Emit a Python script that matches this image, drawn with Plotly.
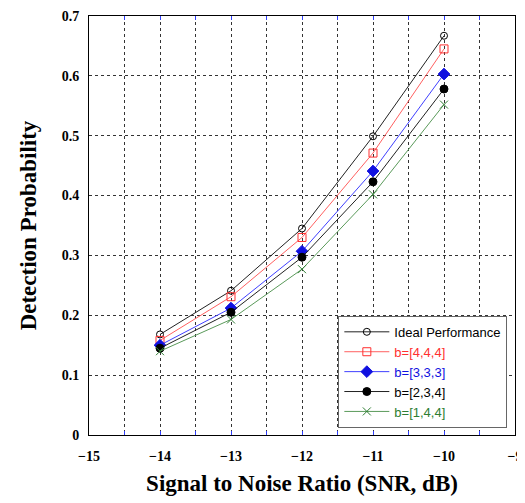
import plotly.graph_objects as go

# SNR (dB) and detection probability per quantisation scheme
snr=[-14,-13,-12,-11,-10]
ideal=[0.168,0.241,0.345,0.499,0.667]
b444=[0.158,0.231,0.330,0.471,0.645]
b333=[0.150,0.212,0.307,0.441,0.603]
b234=[0.145,0.205,0.297,0.423,0.578]
b144=[0.140,0.193,0.277,0.402,0.552]

series=[('Ideal Performance',ideal,'black','#222222','circle-open',7),
        ('b=[4,4,4]',b444,'#ff3030','#ff6060','square-open',8),
        ('b=[3,3,3]',b333,'#1010e0','#4040ff','diamond',9),
        ('b=[2,3,4]',b234,'black','#222222','circle',8),
        ('b=[1,4,4]',b144,'#2e7d32','#5a9a5a','x-thin-open',8)]

fig=go.Figure()
for name,vals,tcol,lcol,sym,size in series:
    fig.add_trace(go.Scatter(x=snr,y=vals,mode='lines+markers',
                             name='<span style="color:'+tcol+'">'+name+'</span>',
                             line={'color':lcol,'width':1},
                             marker={'symbol':sym,'size':size,'color':tcol,
                                     'line':{'color':tcol,'width':1}}))

# page body has an 8px margin, so the figure is a little smaller than the window
axfont={'family':'Liberation Serif','size':14,'color':'black'}
grid={'showgrid':True,'gridcolor':'#333333','griddash':'3px,3px','gridwidth':1}
fig.update_layout(width=517,height=495,
                  margin={'l':81,'r':10,'t':8,'b':68,'autoexpand':False},
                  plot_bgcolor='white',paper_bgcolor='white',
                  font={'family':'Liberation Sans','color':'black'},
                  legend={'x':0.982,'y':0.017,'xanchor':'right','yanchor':'bottom',
                          'bordercolor':'#666666','borderwidth':1,'bgcolor':'white',
                          'font':{'family':'Liberation Sans','size':13},
                          'itemwidth':45,'tracegroupgap':0},
                  xaxis={'range':[-15,-9],'dtick':1,'tickformat':'d',**grid,
                         'minor':{'dtick':0.5,'showgrid':True,'gridcolor':'#333333','griddash':'3px,3px',
                                  'ticks':'inside','ticklen':4,'tickcolor':'#3040ff'},
                         'ticks':'inside','ticklen':4,'tickcolor':'#3040ff',
                         'showline':True,'linecolor':'black','linewidth':1,'mirror':'ticks',
                         'zeroline':False,'tickfont':axfont,'ticklabelstandoff':8,
                         'automargin':False,'ticklabeloverflow':'allow',
                         'tickprefix':'<b>','ticksuffix':'</b>',
                         'title':{'text':'<b>Signal to Noise Ratio (SNR, dB)</b>',
                                  'font':{'family':'Liberation Serif','size':23},'standoff':12}},
                  yaxis={'range':[0,0.7],'dtick':0.1,**grid,
                         'ticks':'','showline':True,'linecolor':'black','linewidth':1,'mirror':True,
                         'zeroline':False,'tickfont':axfont,'ticklabelstandoff':6,
                         'automargin':False,'ticklabeloverflow':'allow',
                         'tickprefix':'<b>','ticksuffix':'</b>',
                         'title':{'text':'<b>Detection Probability</b>',
                                  'font':{'family':'Liberation Serif','size':23},'standoff':18}})
fig.write_html("out.html")
